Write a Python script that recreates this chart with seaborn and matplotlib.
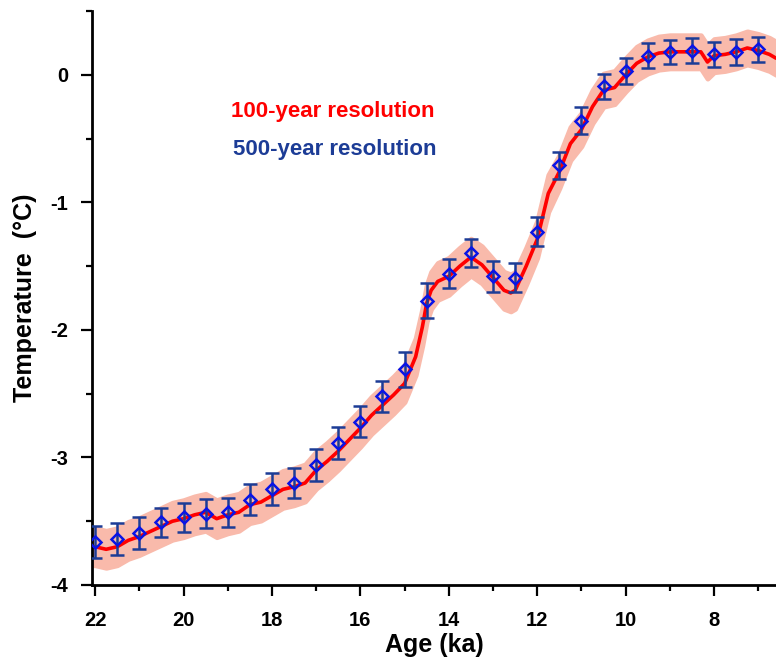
import matplotlib
matplotlib.use("Agg")
import matplotlib.pyplot as plt
import seaborn as sns
import numpy as np
import pandas as pd
from matplotlib.ticker import MultipleLocator

# ---- data ----
red_age = [22.07, 22.0, 21.75, 21.5, 21.25, 21.0, 20.75, 20.5, 20.25, 20.0, 19.75, 19.5,
           19.25, 19.0, 18.75, 18.5, 18.25, 18.0, 17.75, 17.5, 17.25, 17.0, 16.75, 16.5,
           16.25, 16.0, 15.75, 15.5, 15.25, 15.0, 14.75, 14.6, 14.5, 14.4, 14.25, 14.0,
           13.75, 13.5, 13.25, 13.0, 12.75, 12.6, 12.5, 12.25, 12.0, 11.75, 11.5, 11.25,
           11.0, 10.75, 10.5, 10.25, 10.0, 9.75, 9.5, 9.25, 9.0, 8.75, 8.5, 8.3,
           8.15, 8.0, 7.75, 7.5, 7.25, 7.0, 6.75, 6.6]
red_temp = [-3.70, -3.70, -3.72, -3.70, -3.65, -3.62, -3.58, -3.54, -3.50, -3.48, -3.45, -3.43,
            -3.48, -3.45, -3.43, -3.37, -3.35, -3.30, -3.25, -3.23, -3.20, -3.10, -3.03, -2.95,
            -2.86, -2.77, -2.67, -2.59, -2.51, -2.42, -2.21, -1.98, -1.79, -1.69, -1.62, -1.58,
            -1.50, -1.43, -1.49, -1.59, -1.69, -1.71, -1.69, -1.50, -1.29, -0.93, -0.76, -0.54,
            -0.43, -0.25, -0.12, -0.10, 0.00, 0.09, 0.14, 0.17, 0.18, 0.18, 0.18, 0.18,
            0.10, 0.15, 0.16, 0.18, 0.21, 0.19, 0.16, 0.13]
red_err = [0.145] * 46 + [0.13] * 22

blue_age = [22.0, 21.5, 21.0, 20.5, 20.0, 19.5, 19.0, 18.5, 18.0, 17.5, 17.0, 16.5, 16.0,
            15.5, 15.0, 14.5, 14.0, 13.5, 13.0, 12.5, 12.0, 11.5, 11.0, 10.5, 10.0, 9.5,
            9.0, 8.5, 8.0, 7.5, 7.0]
blue_temp = [-3.66, -3.64, -3.59, -3.51, -3.47, -3.44, -3.43, -3.33, -3.25, -3.20, -3.06, -2.89,
             -2.72, -2.52, -2.31, -1.77, -1.56, -1.40, -1.58, -1.59, -1.23, -0.71, -0.36, -0.09,
             0.03, 0.15, 0.18, 0.19, 0.16, 0.18, 0.20]
blue_err = [0.125, 0.125, 0.125, 0.115, 0.115, 0.115, 0.115, 0.12, 0.125, 0.12, 0.125, 0.125,
            0.12, 0.12, 0.135, 0.14, 0.115, 0.11, 0.12, 0.115, 0.115, 0.105, 0.105, 0.10,
            0.10, 0.10, 0.095, 0.10, 0.10, 0.10, 0.10]

x_ticks = [22, 20, 18, 16, 14, 12, 10, 8]
y_ticks = [-4, -3, -2, -1, 0]

label_red = "100-year resolution"
label_blue = "500-year resolution"

# ---- style ----
sns.set_style("ticks")
plt.rcParams['font.family'] = ['Liberation Sans', 'DejaVu Sans']
plt.rcParams['font.weight'] = 'bold'
plt.rcParams['axes.unicode_minus'] = False
plt.rcParams['text.color'] = 'black'
plt.rcParams['axes.labelcolor'] = 'black'

red_df = pd.DataFrame({"age": red_age, "temp": red_temp, "err": red_err})
blue_df = pd.DataFrame({"age": blue_age, "temp": blue_temp, "err": blue_err})

fig = plt.figure(figsize=(7.76, 6.63), dpi=100)
ax = fig.add_axes([92 / 776, 78 / 663, 684 / 776, 574 / 663])

band_color = "#f9baab"
navy = "#1c3c96"

ax.fill_between(red_df["age"], red_df["temp"] - red_df["err"], red_df["temp"] + red_df["err"],
                facecolor=band_color, edgecolor=band_color, lw=3.5, zorder=1)
sns.lineplot(data=red_df, x="age", y="temp", ax=ax, color="#ff0000", lw=2.6,
             sort=False, zorder=2)
ax.errorbar(blue_df["age"], blue_df["temp"], yerr=blue_df["err"], fmt="none",
            ecolor=navy, elinewidth=1.8, capsize=5, capthick=1.8, zorder=3)
ax.plot(blue_df["age"], blue_df["temp"], ls="none", marker="D", ms=5.8, mfc="none",
        mec="#0a14e6", mew=1.8, zorder=4)

ax.set_xlim(22.07, 6.6)
ax.set_ylim(-4, 0.5)
ax.set_xticks(x_ticks)
ax.set_yticks(y_ticks)
ax.xaxis.set_minor_locator(MultipleLocator(1))
ax.yaxis.set_minor_locator(MultipleLocator(0.5))

for s in ["top", "right"]:
    ax.spines[s].set_visible(False)
for s in ["left", "bottom"]:
    ax.spines[s].set_linewidth(2)
    ax.spines[s].set_color("black")

ax.tick_params(which="major", direction="out", length=8, width=1.6, color="black",
               labelsize=14.5, labelcolor="black")
ax.tick_params(axis="x", which="major", pad=11)
ax.tick_params(axis="y", which="major", pad=9)
ax.tick_params(which="minor", direction="out", length=4, width=1.6, color="black")

ax.set_xlabel("Age (ka)", fontsize=18, fontweight="bold", labelpad=2, color="black")
ax.set_ylabel("Temperature  (\u00b0C)", fontsize=18, fontweight="bold", labelpad=10,
              color="black")

ax.text(0.2028, 0.815, label_red, transform=ax.transAxes, color="#ff0000",
        fontsize=16, fontweight="bold", va="baseline", ha="left")
ax.text(0.2066, 0.749, label_blue, transform=ax.transAxes, color=navy,
        fontsize=16, fontweight="bold", va="baseline", ha="left")

ax.grid(False)
fig.savefig("out.png", dpi=100)
